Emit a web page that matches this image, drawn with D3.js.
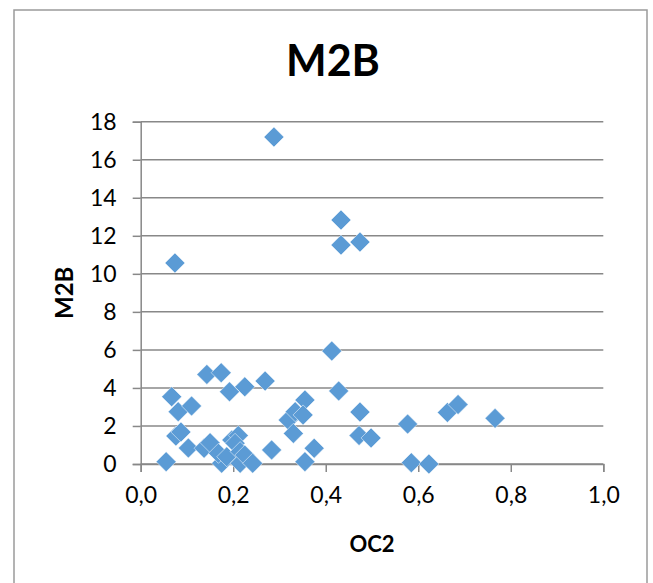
<!DOCTYPE html>
<html>
<head>
<meta charset="utf-8">
<script src="https://cdn.jsdelivr.net/npm/d3@7"></script>
<style>
  body { margin: 0; background: #fff; }
  text { font-family: Lato, "Open Sans", sans-serif; fill: #000; }
</style>
</head>
<body>
<svg id="chart" width="653" height="583"></svg>
<script>
// OC2 values (x)
const oc2 = [0.288, 0.074, 0.433, 0.433, 0.474, 0.413, 0.428, 0.474, 0.472, 0.498,
  0.577, 0.585, 0.623, 0.663, 0.686, 0.766, 0.055, 0.067, 0.081, 0.110,
  0.076, 0.087, 0.103, 0.137, 0.150, 0.143, 0.174, 0.192, 0.225, 0.269,
  0.175, 0.168, 0.186, 0.197, 0.211, 0.204, 0.215, 0.215, 0.225, 0.242,
  0.283, 0.319, 0.334, 0.355, 0.351, 0.330, 0.355, 0.375]
// M2B values (y)
const m2b = [17.19, 10.57, 12.83, 11.51, 11.67, 5.94, 3.84, 2.73, 1.50, 1.37,
  2.10, 0.07, 0.0, 2.71, 3.13, 2.40, 0.12, 3.54, 2.75, 3.05,
  1.47, 1.68, 0.84, 0.83, 1.12, 4.71, 4.80, 3.80, 4.06, 4.36,
  0.04, 0.56, 0.38, 1.26, 1.50, 1.09, 0.65, 0.04, 0.47, 0.04,
  0.74, 2.31, 2.75, 3.36, 2.58, 1.61, 0.12, 0.83]
const xTicks = [0, 0.2, 0.4, 0.6, 0.8, 1.0]
const yTicks = [0, 2, 4, 6, 8, 10, 12, 14, 16, 18]
const title = 'M2B'

const svg = d3.select('#chart')
const fmt = d => d3.format('.1f')(d).replace('.', ',')

// outer chart border
svg.append('rect')
    .attr('x', 14).attr('y', 10)
    .attr('width', 633).attr('height', 600)
    .attr('fill', '#fff')
    .attr('stroke', '#9a9a9a')
    .attr('stroke-width', 1.5)

const x = d3.scaleLinear().domain([0, 1]).range([140.7, 603.3])
const y = d3.scaleLinear().domain([0, 18]).range([464, 121.7])

// gridlines
svg.append('g')
    .selectAll('line')
    .data(yTicks)
    .join('line')
    .attr('x1', x(0)).attr('x2', x(1))
    .attr('y1', d => y(d)).attr('y2', d => y(d))
    .attr('stroke', '#888')
    .attr('stroke-width', 1.5)

// Y axis
const gY = svg.append('g')
    .attr('transform', 'translate(' + x(0) + ',0)')
    .call(d3.axisLeft(y).tickValues(yTicks).tickSize(8).tickPadding(16).tickFormat(d3.format('d')))
gY.selectAll('line, path').attr('stroke', '#888').attr('stroke-width', 1.5)
gY.selectAll('text').style('font-size', '23px').style('font-family', 'Lato, sans-serif')

// X axis
const gX = svg.append('g')
    .attr('transform', 'translate(0,' + y(0) + ')')
    .call(d3.axisBottom(x).tickValues(xTicks).tickSize(8).tickPadding(15).tickFormat(fmt))
gX.selectAll('line, path').attr('stroke', '#888').attr('stroke-width', 1.5)
gX.selectAll('text').style('font-size', '23px').style('font-family', 'Lato, sans-serif')

// points
const pts = oc2.map((d, i) => ({x: d, y: m2b[i]}))
svg.append('g')
    .selectAll('path')
    .data(pts)
    .join('path')
    .attr('transform', d => 'translate(' + x(d.x) + ',' + y(d.y) + ')')
    .attr('d', 'M0,-10L10,0L0,10L-10,0Z')
    .attr('fill', '#5b9bd5')
    .attr('stroke', '#fff')
    .attr('stroke-width', 0.5)

// titles
svg.append('text')
    .attr('x', 333).attr('y', 76)
    .attr('text-anchor', 'middle')
    .style('font-size', '43px').style('font-weight', 'bold')
    .text(title)

svg.append('text')
    .attr('x', (x(0) + x(1)) / 2).attr('y', 552)
    .attr('text-anchor', 'middle')
    .style('font-size', '22px').style('font-weight', 'bold')
    .text('OC2')

svg.append('text')
    .attr('transform', 'translate(73,' + (y(0) + y(18)) / 2 + ') rotate(-90)')
    .attr('text-anchor', 'middle')
    .style('font-size', '24px').style('font-weight', 'bold')
    .text('M2B')
</script>
</body>
</html>
